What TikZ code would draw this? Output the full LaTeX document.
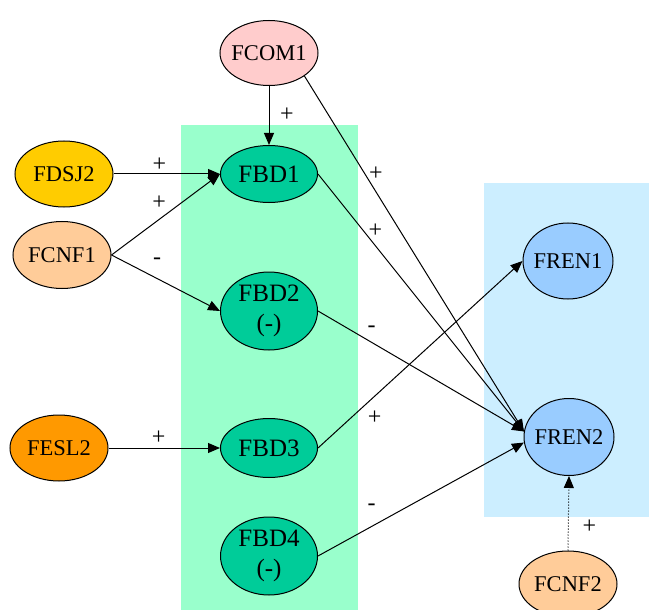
\documentclass[tikz,border=0pt]{standalone}
\usepackage{fontspec}
\setmainfont{Liberation Serif}
\usetikzlibrary{shapes.geometric,arrows.meta}

\definecolor{comcol}{HTML}{FFCCCC}
\definecolor{dsjcol}{HTML}{FFCC00}
\definecolor{cnfcol}{HTML}{FFCC99}
\definecolor{eslcol}{HTML}{FF9900}
\definecolor{bdcol}{HTML}{00CC99}
\definecolor{rencol}{HTML}{99CCFF}
\definecolor{bdbg}{HTML}{99FFCC}
\definecolor{renbg}{HTML}{CCEEFF}

\begin{document}
\begin{tikzpicture}[x=1pt, y=-1pt, ->, >={Triangle[length=12pt,width=10pt]}, line width=1pt,
    fnode/.style={ellipse,draw,inner sep=0pt,inner xsep=-4pt,
      font=\fontsize{22.5}{26}\selectfont,minimum width=98pt,minimum height=66pt},
    bdnode/.style={fnode,fill=bdcol,font=\fontsize{25}{30}\selectfont,
      align=center,minimum width=97pt},
    rennode/.style={fnode,fill=rencol,minimum width=90pt,minimum height=76pt},
    sign/.style={font=\fontsize{24}{24}\selectfont}]

  \useasboundingbox (0,0) rectangle (649,610);

  % clusters
  \fill[bdbg, -] (181,125) rectangle (358,610);
  \fill[renbg, -] (484,183) rectangle (649,517);

  \node[fnode, fill=comcol, minimum height=65pt] (fcom1) at (269,53) {FCOM1};
  \node[fnode, fill=dsjcol] (fdsj2) at (64,174) {FDSJ2};
  \node[fnode, fill=cnfcol, minimum height=67pt] (fcnf1) at (62,255) {FCNF1};
  \node[fnode, fill=eslcol] (fesl2) at (59,448) {FESL2};

  \node[bdnode, minimum height=57pt] (fbd1) at (269,174) {FBD1};
  \node[bdnode, minimum height=78pt] (fbd2) at (269,311) {FBD2\\(-)};
  \node[bdnode, minimum height=59pt] (fbd3) at (269,448) {FBD3};
  \node[bdnode, minimum height=78pt] (fbd4) at (269,556) {FBD4\\(-)};

  \node[rennode] (fren1) at (568,261) {FREN1};
  \node[rennode, minimum height=77pt] (fren2) at (569,437) {FREN2};
  \node[fnode, fill=cnfcol] (fcnf2) at (568,584) {FCNF2};

  \path
    (fcom1.south) edge node[sign, pos=.48, xshift=18pt] {+} (fbd1.north)
    (fdsj2.east) edge node[sign, pos=.43, yshift=9pt] {+} (fbd1.west)
    (fcnf1.east) edge node[sign, pos=.44, yshift=17pt] {+} (fbd1.west)
    (fcnf1.east) edge node[sign, pos=.42, yshift=17pt] {-} (fbd2.west)
    (fesl2.east) edge node[sign, pos=.45, yshift=10pt] {+} (fbd3.west)
    (fcom1.-33) edge node[sign, pos=.275, xshift=11pt] {+} (fren2.173)
    (fbd1.east) edge node[sign, pos=.22, xshift=12pt] {+} (fren2.173)
    (fbd2.east) edge node[sign, pos=.26, yshift=13pt] {-} (fren2.173)
    (fbd3.east) edge node[sign, pos=.16, xshift=24pt] {+} (fren1.west)
    (fbd4.east) edge node[sign, pos=.26, yshift=19pt] {-} (fren2.187)
    (fcnf2.north) edge[dotted] node[sign, pos=.32, xshift=21pt] {+} (fren2.south);
\end{tikzpicture}
\end{document}
